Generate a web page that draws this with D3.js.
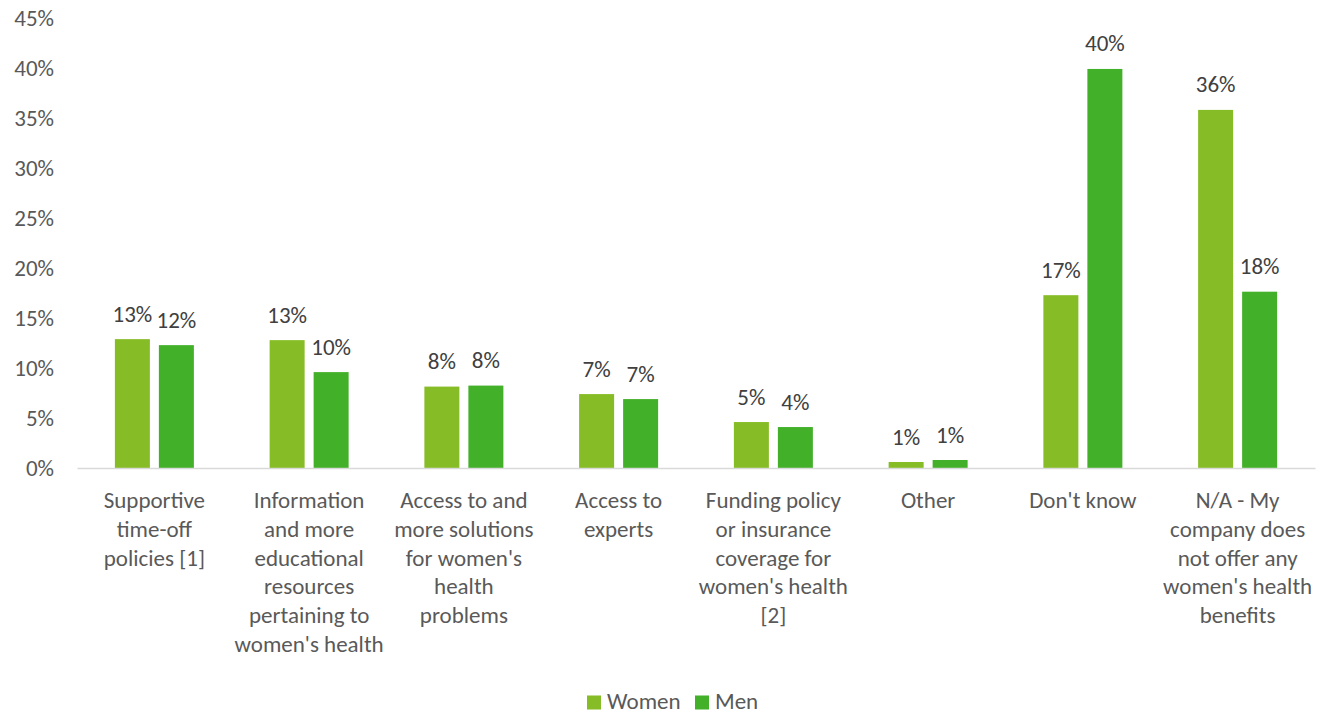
<!DOCTYPE html>
<html>
<head>
<meta charset="utf-8">
<script src="https://cdn.jsdelivr.net/npm/d3@7"></script>
<style>
  html, body { margin: 0; padding: 0; background: #ffffff; }
  svg { display: block; font-family: Carlito, Lato, "Open Sans", sans-serif; }
</style>
</head>
<body>
<svg id="chart" width="1317" height="714"></svg>
<script>
// Categories (line breaks mark where each axis label wraps)
const categories = [
  "Supportive\ntime-off\npolicies [1]",
  "Information\nand more\neducational\nresources\npertaining to\nwomen's health",
  "Access to and\nmore solutions\nfor women's\nhealth\nproblems",
  "Access to\nexperts",
  "Funding policy\nor insurance\ncoverage for\nwomen's health\n[2]",
  "Other",
  "Don't know",
  "N/A - My\ncompany does\nnot offer any\nwomen's health\nbenefits"
];
const seriesNames = ["Women", "Men"];
// Shares of respondents, in percent
const womenValues = [12.9, 12.8, 8.15, 7.4, 4.6, 0.6, 17.3, 35.85];
const menValues   = [12.3, 9.6, 8.25, 6.9, 4.1, 0.8, 39.95, 17.65];
const yTicks = [0, 5, 10, 15, 20, 25, 30, 35, 40, 45];

const colors = { Women: "#86BC25", Men: "#43B02A" };
const fontSize = "23px";

const svg = d3.select("#chart");
const plotLeft = 77, plotRight = 1315, plotTop = 18.5, plotBottom = 468;

const x = d3.scaleBand().domain(categories).range([plotLeft, plotRight]).paddingInner(0).paddingOuter(0);
const xSeries = d3.scaleBand().domain(seriesNames).range([-39.5, 39.5]).paddingInner(9 / 44).paddingOuter(0);
const y = d3.scaleLinear().domain([0, 45]).range([plotBottom, plotTop]);

const rows = categories.map((c, i) => ({ cat: c, Women: womenValues[i], Men: menValues[i] }));

// Y axis labels (no axis line, no ticks)
const yAxis = svg.append("g")
  .attr("transform", `translate(${plotLeft},0)`)
  .call(d3.axisLeft(y).tickValues(yTicks).tickSize(0).tickPadding(23).tickFormat(d => d + "%"));
yAxis.select(".domain").remove();
yAxis.selectAll("text")
  .attr("fill", "#595959")
  .style("font-size", fontSize)
  .style("font-family", "Carlito, Lato, 'Open Sans', sans-serif");

// Bars
const groups = svg.append("g").selectAll("g")
  .data(rows)
  .join("g")
  .attr("transform", d => `translate(${x(d.cat) + x.bandwidth() / 2},0)`);

groups.selectAll("rect")
  .data(d => seriesNames.map(s => ({ s, v: d[s] })))
  .join("rect")
  .attr("x", d => xSeries(d.s))
  .attr("width", xSeries.bandwidth())
  .attr("y", d => y(d.v))
  .attr("height", d => y(0) - y(d.v))
  .attr("fill", d => colors[d.s]);

// Value labels
groups.selectAll("text.value")
  .data(d => seriesNames.map(s => ({ s, v: d[s] })))
  .join("text")
  .attr("class", "value")
  .attr("x", d => xSeries(d.s) + xSeries.bandwidth() / 2)
  .attr("y", d => y(d.v) - 17.5)
  .attr("text-anchor", "middle")
  .attr("fill", "#404040")
  .style("font-size", fontSize)
  .text(d => Math.round(d.v) + "%");

// X axis line
const xAxis = svg.append("g")
  .attr("transform", `translate(0,${plotBottom})`)
  .call(d3.axisBottom(x).tickSize(0).tickFormat(""));
xAxis.select(".domain").attr("stroke", "#d9d9d9").attr("stroke-width", 1.5);

// Category labels, wrapped on line breaks
const catLabels = svg.append("g").selectAll("text")
  .data(categories)
  .join("text")
  .attr("x", d => x(d) + x.bandwidth() / 2)
  .attr("y", 508)
  .attr("text-anchor", "middle")
  .attr("fill", "#595959")
  .style("font-size", fontSize);
catLabels.each(function (d) {
  const t = d3.select(this);
  d.split("\n").forEach((line, i) => {
    t.append("tspan")
      .attr("x", x(d) + x.bandwidth() / 2)
      .attr("y", 508 + i * 28.8)
      .text(line);
  });
});

// Legend
const legend = svg.append("g");
const legendItems = [
  { s: "Women", x: 587 },
  { s: "Men", x: 695 }
];
legendItems.forEach(item => {
  legend.append("rect")
    .attr("x", item.x).attr("y", 695.5)
    .attr("width", 14).attr("height", 14)
    .attr("fill", colors[item.s]);
  legend.append("text")
    .attr("x", item.x + 20).attr("y", 708.5)
    .attr("fill", "#595959")
    .style("font-size", fontSize)
    .text(item.s);
});
</script>
</body>
</html>
